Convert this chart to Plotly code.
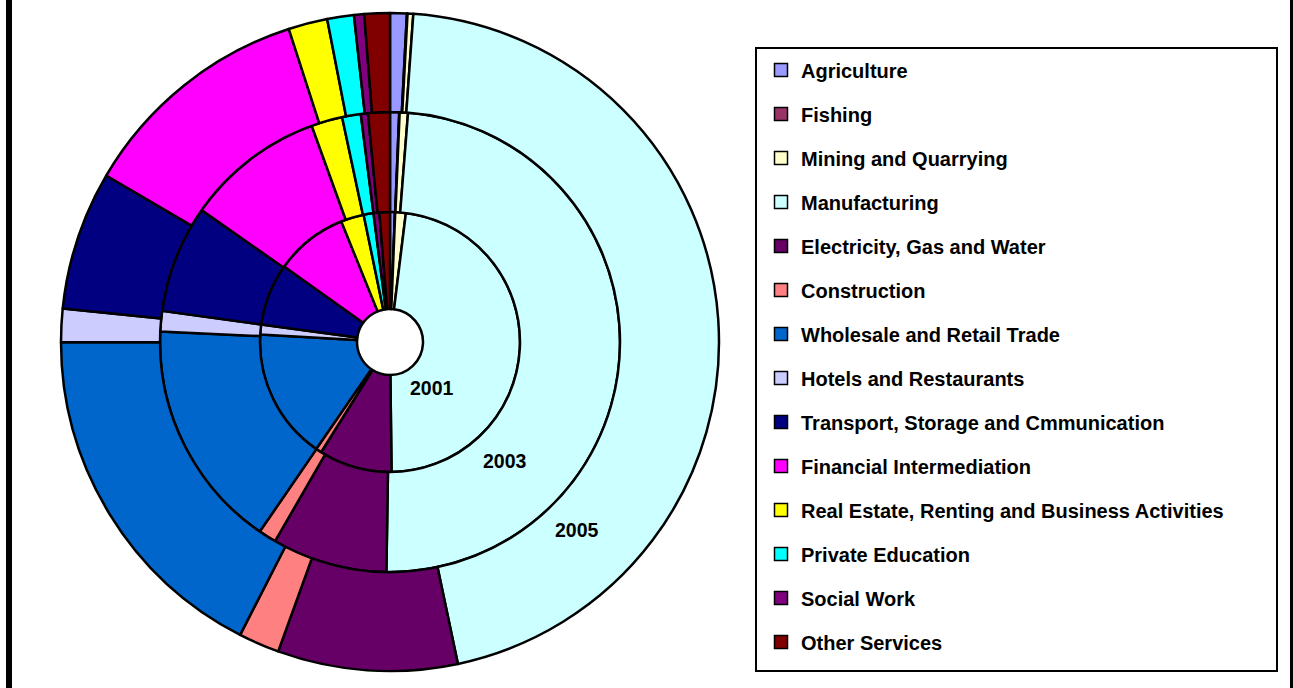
"""Doughnut chart: shares of economic activities for 2001, 2003 and 2005."""

import plotly.graph_objects as go

W, H = 1293, 688

sectors = [
    "Agriculture",
    "Fishing",
    "Mining and Quarrying",
    "Manufacturing",
    "Electricity, Gas and Water",
    "Construction",
    "Wholesale and Retail Trade",
    "Hotels and Restaurants",
    "Transport, Storage and Cmmunication",
    "Financial Intermediation",
    "Real Estate, Renting and Business Activities",
    "Private Education",
    "Social Work",
    "Other Services",
]
colors = [
    "#9999FF", "#993366", "#FFFFCC", "#CCFFFF", "#660066", "#FF8080", "#0066CC",
    "#CCCCFF", "#000080", "#FF00FF", "#FFFF00", "#00FFFF", "#800080", "#800000",
]
years = ["2001", "2003", "2005"]

# shares in percent
share_2001 = [0.61, 0.03, 1.31, 47.86, 9.08, 0.72, 16.31, 1.22, 7.72, 9.03, 2.86, 1.22, 0.72, 1.31]
share_2003 = [0.64, 0.03, 0.58, 49.00, 8.08, 1.25, 16.14, 1.44, 7.56, 9.75, 2.19, 1.31, 0.50, 1.53]
share_2005 = [0.82, 0.03, 0.28, 45.57, 8.83, 2.01, 17.46, 1.64, 6.82, 11.58, 1.92, 1.31, 0.50, 1.25]

# ring geometry in pixels (inner ring first)
cx, cy = 390, 342
ring_outer = [130, 230, 329]
ring_inner = [33, 130, 230]
label_offset = [(41.5, 46), (114.5, 118.5), (186.7, 188.3)]

FONT = "Liberation Sans, Arial, sans-serif"


def px_x(x):
    return x / W


def px_y(y):
    return 1 - y / H


fig = go.Figure()
for year, values, r_out, r_in in zip(
    years, [share_2001, share_2003, share_2005], ring_outer, ring_inner
):
    fig.add_trace(
        go.Pie(
            labels=sectors,
            values=values,
            name=year,
            sort=False,
            direction="clockwise",
            rotation=0,
            hole=r_in / r_out,
            domain=dict(
                x=[px_x(cx - r_out), px_x(cx + r_out)],
                y=[px_y(cy + r_out), px_y(cy - r_out)],
            ),
            marker=dict(colors=colors, line=dict(color="black", width=2.5)),
            textinfo="none",
            showlegend=False,
            hoverinfo="label+percent+name",
        )
    )

# legend entries (pie legend rows can't be spaced out, so use empty markers)
for sector, color in zip(sectors, colors):
    fig.add_trace(
        go.Scatter(
            x=[None],
            y=[None],
            mode="markers",
            name=sector,
            legendgroup=sector,
            marker=dict(symbol="square", size=13, color=color, line=dict(color="black", width=1.5)),
        )
    )

for year, (dx, dy) in zip(years, label_offset):
    fig.add_annotation(
        x=px_x(cx + dx),
        y=px_y(cy + dy),
        xref="paper",
        yref="paper",
        xanchor="center",
        yanchor="middle",
        text=year,
        showarrow=False,
        font=dict(family=FONT, size=19.5, color="black", weight="bold"),
    )

# legend box
fig.add_shape(
    type="rect", xref="paper", yref="paper",
    x0=px_x(756), x1=px_x(1277), y0=px_y(671), y1=px_y(48),
    fillcolor="rgba(0,0,0,0)", line=dict(color="black", width=2), layer="below",
)

# black frame at the left and right edges
for x0, x1 in [(6, 12), (1290, 1296)]:
    fig.add_shape(
        type="rect", xref="paper", yref="paper",
        x0=px_x(x0), x1=px_x(x1), y0=-0.05, y1=1.05,
        fillcolor="black", line_width=0, layer="above",
    )

fig.update_xaxes(visible=False)
fig.update_yaxes(visible=False)
fig.update_layout(
    width=W,
    height=H,
    margin=dict(l=0, r=0, t=0, b=0),
    paper_bgcolor="white",
    plot_bgcolor="white",
    legend=dict(
        x=px_x(761),
        y=px_y(50.5),
        xanchor="left",
        yanchor="top",
        bgcolor="rgba(0,0,0,0)",
        borderwidth=0,
        tracegroupgap=15,
        font=dict(family=FONT, size=20, color="black", weight="bold"),
    ),
)

# drop the default page margin so the figure fills the window
fig.write_html(
    "out.html",
    config={"displayModeBar": False},
    post_script="document.body.style.margin = '0';",
)
